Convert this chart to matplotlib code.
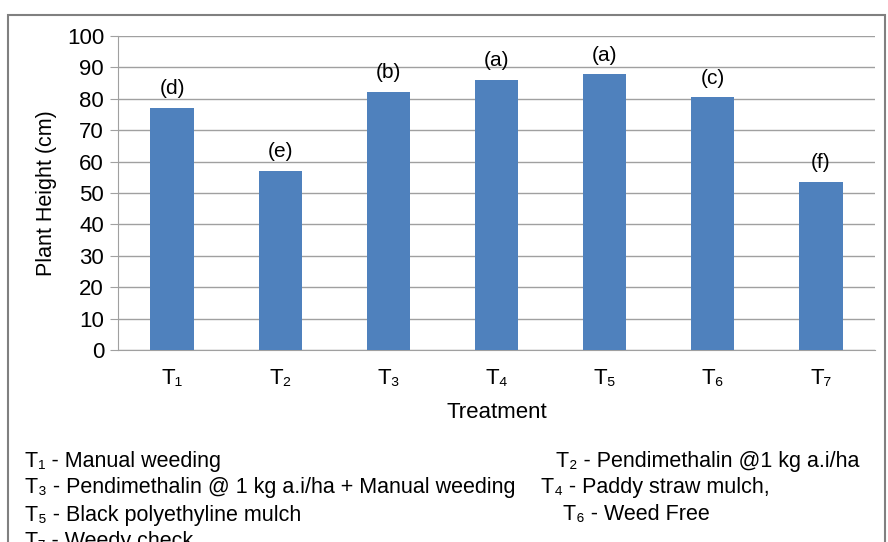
import matplotlib.pyplot as plt
from matplotlib.patches import Rectangle

# Plant height per treatment
treatments = ['T₁', 'T₂', 'T₃', 'T₄', 'T₅', 'T₆', 'T₇']
plant_height = [77.1, 57.0, 82.2, 86.0, 87.8, 80.5, 53.6]
letters = ['(d)', '(e)', '(b)', '(a)', '(a)', '(c)', '(f)']

# Key text at the bottom
key_left = ['T₁ - Manual weeding',
            'T₃ - Pendimethalin @ 1 kg a.i/ha + Manual weeding',
            'T₅ - Black polyethyline mulch',
            'T₇ - Weedy check']
key_right = ['T₂ - Pendimethalin @1 kg a.i/ha',
             'T₄ - Paddy straw mulch,',
             'T₆ - Weed Free']
key_right_x = [556, 541, 563]

plt.rcParams['font.family'] = ['Liberation Sans', 'DejaVu Sans']

W, H = 888, 542
fig = plt.figure(figsize=(W / 100, H / 100), dpi=100)
ax = fig.add_axes([118 / W, 1 - 350 / H, 757 / W, 314 / H])

x = range(len(treatments))
ax.bar(x, plant_height, width=0.4, color='#4F81BD', zorder=3)
for i, (v, lab) in enumerate(zip(plant_height, letters)):
    ax.annotate(lab, (i, v), xytext=(0, 7), textcoords='offset points',
                ha='center', va='bottom', fontsize=15)

ax.set_xlim(-0.5, len(treatments) - 0.5)
ax.set_ylim(0, 100)
ax.set_yticks(range(0, 101, 10))
ax.set_xticks(list(x))
ax.set_xticklabels(treatments, fontsize=16)
ax.tick_params(axis='y', labelsize=16, color='#A0A0A0', length=6, pad=4)
ax.tick_params(axis='x', length=0, pad=13)
ax.grid(axis='y', color='#A0A0A0', linewidth=1, zorder=0)
for s in ['top', 'right']:
    ax.spines[s].set_visible(False)
ax.spines['left'].set_color('#A0A0A0')
ax.spines['bottom'].set_color('#A0A0A0')
ax.set_ylabel('Plant Height (cm)', fontsize=15.5, labelpad=7)
ax.set_xlabel('Treatment', fontsize=16, labelpad=9)

# outer frame
fig.patches.append(Rectangle((8 / W, -0.05), 877 / W, 1 - 15 / H + 0.05,
                             transform=fig.transFigure, fill=False,
                             edgecolor='#808080', linewidth=1.5))

ys = [462, 488, 515, 541]
for t, y in zip(key_left, ys):
    fig.text(25 / W, 1 - y / H, t, fontsize=15.5, va='center', ha='left')
for t, xx, y in zip(key_right, key_right_x, ys):
    fig.text(xx / W, 1 - y / H, t, fontsize=15.5, va='center', ha='left')

fig.savefig('out.png', dpi=100)
